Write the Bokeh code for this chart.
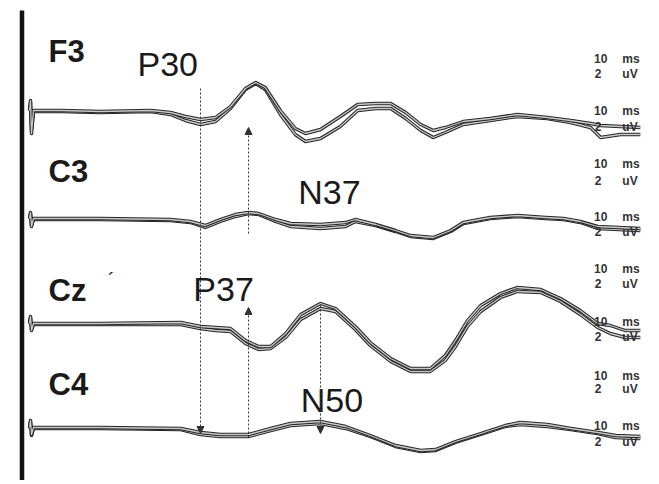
from bokeh.plotting import figure
from bokeh.models import Range1d, Arrow, NormalHead
from bokeh.embed import file_html
from bokeh.resources import INLINE
from bokeh.core.properties import value

# ---------------- data (time in ms, deflection in uV, up = drawn upward) -------------
channels = ["F3", "C3", "Cz", "C4"]
baselines = [-11.0, -21.8, -32.3, -42.7]   # vertical offset of each channel

f3_t = [1.5, 1.67, 1.83, 2.17, 6.7, 13.3, 21.7, 25, 27.5, 30, 32.5, 35, 37.5, 39.2, 40.8, 43.3,
        45.8, 47.5, 50, 53.3, 56.2, 59.2, 61.7, 64.2, 66.7, 68.8, 70.8, 73.8, 78.3, 82.8, 87.8,
        91.7, 95, 96.7, 100, 103.3]
f3_run1 = [0, 1.0, -2.3, 0, 0, -0.1, 0, -0.2, -0.6, -0.9, -0.7, 0.4, 2.2, 2.8, 2.3, 0, -1.8, -2.3,
           -1.9, -0.6, 0.6, 0.7, 0.7, -0.2, -1.4, -2.0, -1.7, -1.1, -0.8, -0.4, -0.7, -1.0, -1.3,
           -1.5, -1.6, -1.7]
f3_run2 = [0, 0.8, -2.0, -0.1, -0.1, -0.2, -0.1, -0.4, -1.0, -1.4, -1.1, 0.2, 2.1, 2.7, 2.1, -0.4,
           -2.4, -3.1, -2.8, -1.6, 0, 0.2, 0.2, -0.8, -2.0, -2.7, -2.2, -1.4, -1.0, -0.6, -0.8, -1.2,
           -1.7, -2.7, -2.4, -2.4]

c3_t = [1.5, 1.67, 1.83, 2.17, 13.3, 25, 28.3, 30.8, 33.3, 35.8, 38, 39.7, 42.5, 45, 50, 54.2,
        55.8, 59.2, 62.5, 65, 68.8, 71.7, 73.8, 78.3, 82.8, 87.5, 90.5, 93.3, 96.2, 103.3]
c3_run1 = [0, 0.6, -0.8, 0, 0, -0.1, -0.3, -0.7, -0.1, 0.4, 0.6, 0.5, -0.1, -0.5, -0.6, -0.4,
           -0.1, -0.6, -1.2, -1.7, -1.9, -1.2, -0.4, 0.1, 0.3, 0.1, 0, -0.3, -0.8, -1.0]
c3_run2 = [0, 0.5, -0.7, -0.1, -0.1, -0.2, -0.4, -0.9, -0.3, 0.2, 0.5, 0.4, -0.3, -0.8, -1.0, -0.8,
           -0.3, -0.7, -1.3, -1.8, -2.0, -1.3, -0.5, 0, 0.2, 0, -0.1, -0.4, -1.0, -1.2]

cz_t = [1.5, 1.67, 1.83, 2.17, 13.3, 26.7, 30, 32.5, 35, 37.5, 39.7, 41.7, 44.2, 46.7, 50, 52.5,
        55.8, 58.3, 61.7, 65, 68.3, 70.8, 72.5, 74.5, 76.7, 80, 82.8, 86.7, 90, 93.3, 96.2, 98.3,
        100.8, 103.3]
cz_run1 = [0, 0.7, -0.7, 0, 0, 0.1, -0.3, -0.4, -0.5, -1.7, -2.3, -2.3, -1.0, 0.9, 2.0, 1.5, -0.3,
           -1.9, -3.5, -4.5, -4.5, -3.2, -1.7, 0.3, 1.8, 3.0, 3.6, 3.4, 2.5, 1.3, 0, -0.2, -0.7, -0.7]
cz_run2 = [0, 0.6, -0.6, -0.1, -0.1, -0.1, -0.5, -0.7, -0.8, -2.0, -2.6, -2.5, -1.4, 0.4, 1.5, 1.2,
           -0.6, -2.2, -3.8, -4.8, -4.8, -3.7, -2.3, -0.3, 1.2, 2.6, 3.2, 3.1, 2.2, 0.9, -0.4, -1.0,
           -1.4, -1.4]

c4_t = [1.5, 1.67, 1.83, 2.17, 13.3, 26.7, 30, 33.3, 38, 41.7, 45, 50, 54.2, 58.3, 62.5, 66.7,
        69.2, 72.5, 76.7, 80.8, 83.3, 87.8, 91.7, 96.2, 99.2, 103.3]
c4_run1 = [0, 0.7, -0.7, 0, 0, -0.1, -0.5, -0.7, -0.7, -0.1, 0.4, 0.6, 0.1, -0.8, -1.8, -2.3, -2.2,
           -1.4, -0.6, 0.2, 0.5, 0.3, -0.1, -0.5, -0.8, -0.9]
c4_run2 = [-0.1, 0.6, -0.8, -0.1, -0.1, -0.2, -0.7, -0.9, -0.9, -0.3, 0.2, 0.4, -0.1, -0.9, -1.9,
           -2.4, -2.3, -1.5, -0.7, 0.1, 0.3, 0.1, -0.2, -0.6, -1.0, -1.1]

# component markers: latency (ms), start / end level
comp_labels = ["P30", "N37", "P37", "N50"]
marker_t = [30, 38, 38, 50]
marker_from = [-8.8, -23.3, -43.7, -30.5]
marker_to = [-43.3, -12.7, -30.7, -43.3]

scale_time = ["10"] * 8
scale_amp = ["2"] * 8

# ---------------- figure -------------
p = figure(width=655, height=480, output_backend="svg", toolbar_location=None,
           x_range=Range1d(-20 / 6, 635 / 6), y_range=Range1d(-48.0, 0.0),
           min_border=0, min_border_left=0, min_border_right=0,
           min_border_top=0, min_border_bottom=0)
p.axis.visible = False
p.grid.visible = False
p.outline_line_color = None
p.background_fill_color = "white"
p.border_fill_color = "white"

# thick vertical bar (stimulus onset)
p.segment(x0=[0.25], y0=[-1.0], x1=[0.25], y1=[-48.0], line_color="#111111", line_width=4.5)

traces = [(f3_t, f3_run1, f3_run2), (c3_t, c3_run1, c3_run2),
          (cz_t, cz_run1, cz_run2), (c4_t, c4_run1, c4_run2)]
for (t, r1, r2), base in zip(traces, baselines):
    for r in (r2, r1):
        y = [base + v for v in r]
        p.line(t, y, line_color="#262626", line_width=3.4, line_join="round")
        p.line(t, y, line_color="#c9c9c9", line_width=1.3, line_join="round")

# dashed latency markers with arrowheads
for xt, y0, y1 in zip(marker_t, marker_from, marker_to):
    p.add_layout(Arrow(x_start=xt, y_start=y0, x_end=xt, y_end=y1,
                       line_dash="2 2", line_width=1, line_color="#333333",
                       end=NormalHead(size=7, fill_color="#333333", line_color="#333333",
                                      line_width=1)))

# channel labels
p.text(x=[4.67] * 4, y=[-5.1, -17.1, -29.0, -38.4], text=channels,
       text_font=value("Liberation Sans"), text_font_style="bold", text_font_size="31px",
       text_color="#1a1a1a", text_baseline="alphabetic", text_align="left")
p.text(x=[14.6], y=[-27.9], text=["´"], text_font=value("Liberation Sans"),
       text_font_size="20px", text_color="#1a1a1a", text_baseline="alphabetic")

# component labels
p.text(x=[19.5, 46.3, 28.8, 46.7], y=[-6.3, -19.1, -28.8, -39.9], text=comp_labels,
       text_font=value("Liberation Sans"), text_font_size="34px", text_color="#1a1a1a",
       text_baseline="alphabetic", text_align="left")

# calibration labels at right
time_y = [-5.8, -11.0, -16.3, -21.6, -26.8, -32.1, -37.5, -42.5]
amp_y = [-7.3, -12.6, -18.0, -23.1, -28.3, -33.6, -38.8, -44.1]
cal_style = dict(text_font=value("Liberation Sans"), text_font_size="12px",
                 text_font_style="bold", text_color="#333333", text_baseline="middle")
p.text(x=[97.8] * 8, y=time_y, text=scale_time, text_align="right", **cal_style)
p.text(x=[100.3] * 8, y=time_y, text=["ms"] * 8, text_align="left", **cal_style)
p.text(x=[96.8] * 8, y=amp_y, text=scale_amp, text_align="right", **cal_style)
p.text(x=[100.3] * 8, y=amp_y, text=["uV"] * 8, text_align="left", **cal_style)

open("out.html", "w").write(file_html(p, INLINE))
